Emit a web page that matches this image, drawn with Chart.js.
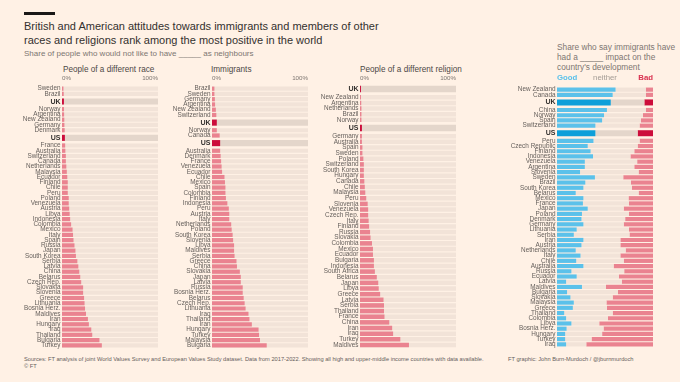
<!DOCTYPE html>
<html lang="en">
<head>
<meta charset="UTF-8">
<title>Attitudes towards immigrants and other races and religions</title>
<script src="https://cdn.jsdelivr.net/npm/chart.js"></script>
<style>
  html, body { margin: 0; padding: 0; }
  body {
    width: 680px; height: 382px; position: relative; overflow: hidden;
    background: #fff1e5; color: #33302e;
    font-family: "Liberation Sans", Arial, sans-serif;
  }
  .abs { position: absolute; white-space: nowrap; }
  .rule { left: 24px; top: 12px; width: 31px; height: 3px; background: #1a1817; }
  .title { left: 24px; top: 19px; font-size: 11px; line-height: 14px; }
  .sub { left: 24px; top: 49px; font-size: 8px; line-height: 10px; color: #7d7671; }
  .ptitle { top: 65px; font-size: 8.2px; line-height: 10px; color: #4d4845; }
  .impact { left: 557px; top: 42px; font-size: 8.3px; line-height: 10px; color: #7d7671; }
  .foot { left: 24px; top: 356px; font-size: 5.7px; line-height: 7px; color: #66605c; }
  .credit { left: 508px; top: 356px; font-size: 5.7px; line-height: 7px; color: #66605c; }
  canvas { position: absolute; top: 72px; }
</style>
</head>
<body>
<div class="abs rule"></div>
<div class="abs title">British and American attitudes towards immigrants and members of other<br>races and religions rank among the most positive in the world</div>
<div class="abs sub">Share of people who would not like to have _____ as neighbours</div>

<div class="abs ptitle" style="left:63px">People of a different race</div>
<div class="abs ptitle" style="left:211px">Immigrants</div>
<div class="abs ptitle" style="left:360px">People of a different religion</div>
<div class="abs impact">Share who say immigrants have<br>had a _____ impact on the<br>country's development</div>

<canvas id="race" width="142" height="281" style="left:18px"></canvas>
<canvas id="imm" width="140" height="281" style="left:170px"></canvas>
<canvas id="religion" width="140" height="281" style="left:318px"></canvas>
<canvas id="impact" width="146" height="280" style="left:509px"></canvas>

<div class="abs foot">Sources: FT analysis of joint World Values Survey and European Values Study dataset. Data from 2017-2022. Showing all high and upper-middle income countries with data available.<br>© FT</div>
<div class="abs credit">FT graphic: John Burn-Murdoch / @jburnmurdoch</div>

<script>
// ---- data ----
const highlighted = ['UK', 'US'];
const pctTicks = [0, 100];
const impactTicks = [0, 50, 100];
const impactTickLabels = ['Good', 'neither', 'Bad'];

const raceCountries = ['Sweden', 'Brazil', 'UK', 'Norway', 'Argentina', 'New Zealand', 'Germany', 'Denmark', 'US', 'France',
  'Australia', 'Switzerland', 'Canada', 'Netherlands', 'Malaysia', 'Ecuador', 'Finland', 'Chile', 'Peru', 'Poland',
  'Venezuela', 'Austria', 'Libya', 'Indonesia', 'Colombia', 'Mexico', 'Italy', 'Spain', 'Russia', 'Japan',
  'South Korea', 'Serbia', 'Latvia', 'China', 'Belarus', 'Czech Rep.', 'Slovakia', 'Slovenia', 'Greece', 'Lithuania',
  'Bosnia Herz.', 'Maldives', 'Iran', 'Hungary', 'Iraq', 'Thailand', 'Bulgaria', 'Turkey'];
const raceValues = [1.5, 1.8, 2, 2.1, 2.2, 2.4, 2.5, 2.8, 3, 3.3,
  3.5, 4, 4, 4.5, 5, 5.5, 6, 6, 6, 7,
  7, 7.5, 8, 8.5, 9.5, 11, 11.5, 12, 13, 14,
  14.5, 16, 17, 18, 19, 20, 22, 22, 23, 23.5,
  24, 25, 27, 28, 30.5, 31.5, 39, 41.5];

const immCountries = ['Brazil', 'Sweden', 'Germany', 'Argentina', 'New Zealand', 'Switzerland', 'UK', 'Norway', 'Canada', 'US',
  'Australia', 'Denmark', 'France', 'Venezuela', 'Ecuador', 'Chile', 'Mexico', 'Spain', 'Colombia', 'Finland',
  'Indonesia', 'Peru', 'Austria', 'Italy', 'Netherlands', 'Poland', 'South Korea', 'Slovenia', 'Libya', 'Maldives',
  'Serbia', 'Greece', 'China', 'Slovakia', 'Japan', 'Latvia', 'Russia', 'Bosnia Herz.', 'Belarus', 'Czech Rep.',
  'Lithuania', 'Iraq', 'Thailand', 'Iran', 'Hungary', 'Turkey', 'Malaysia', 'Bulgaria'];
const immValues = [2.5, 2.5, 3, 3.2, 4, 4.5, 5, 5, 8, 8.5,
  8.5, 9, 9.5, 10, 10.5, 13, 13.5, 14, 14, 14.5,
  16, 17.5, 18, 18, 20, 20.5, 21.5, 22, 23, 23,
  23.5, 25.5, 26, 29, 30, 30, 32, 32, 33, 34,
  35, 38, 39, 41.5, 48.5, 49, 50, 57];

const religionCountries = ['UK', 'New Zealand', 'Argentina', 'Netherlands', 'Brazil', 'Norway', 'US', 'Germany', 'Australia', 'Spain',
  'Sweden', 'Poland', 'Switzerland', 'South Korea', 'Hungary', 'Canada', 'Chile', 'Malaysia', 'Peru', 'Slovenia',
  'Venezuela', 'Czech Rep.', 'Italy', 'Finland', 'Russia', 'Slovakia', 'Colombia', 'Mexico', 'Ecuador', 'Bulgaria',
  'Indonesia', 'South Africa', 'Belarus', 'Japan', 'Libya', 'Greece', 'Latvia', 'Serbia', 'Thailand', 'France',
  'China', 'Iran', 'Iraq', 'Turkey', 'Maldives'];
const religionValues = [1, 1, 1.3, 1.5, 1.5, 1.5, 2, 2, 2, 2.5,
  2.5, 3.5, 4, 4, 4, 4.5, 5, 5.5, 6.5, 8,
  8.5, 8.5, 9, 9.5, 10.5, 11, 12.5, 13.5, 13.5, 14.5,
  14.5, 15.5, 17.5, 19, 19.5, 21, 24.5, 25, 25, 25.5,
  30.5, 33.5, 34.5, 42, 51];

const impactCountries = ['New Zealand', 'Canada', 'UK', 'China', 'Norway', 'Spain', 'Switzerland', 'US', 'Peru', 'Czech Republic',
  'Finland', 'Indonesia', 'Venezuela', 'Argentina', 'Slovenia', 'Sweden', 'Brazil', 'South Korea', 'Belarus', 'Mexico',
  'France', 'Japan', 'Poland', 'Denmark', 'Germany', 'Lithuania', 'Serbia', 'Iran', 'Austria', 'Netherlands',
  'Italy', 'Chile', 'Australia', 'Russia', 'Ecuador', 'Latvia', 'Maldives', 'Bulgaria', 'Slovakia', 'Malaysia',
  'Greece', 'Thailand', 'Colombia', 'Libya', 'Bosnia Herz.', 'Hungary', 'Turkey', 'Iraq'];
const impactGood = [61, 58, 56, 52, 49, 47, 40, 40, 38, 32,
  35, 37.5, 29, 29, 24, 39.5, 29.5, 27.5, 19.5, 27.5,
  27, 32, 26, 25.5, 27.5, 20.5, 17.5, 27.5, 25.5, 19.5,
  24.5, 20, 27.5, 15, 20.5, 9.5, 26, 10.5, 14, 17.5,
  16.5, 7.5, 9.5, 15, 10, 8.5, 8.5, 9.5];
const impactBad = [7.5, 7.5, 9, 7.5, 10.5, 12.5, 14, 16, 14, 16,
  19.5, 23.5, 16.5, 19.5, 15, 31, 23, 22, 15, 25.5,
  25, 30.5, 25, 29, 30.5, 25, 24.5, 34, 34, 28.5,
  34, 30.5, 41, 30, 35.5, 32.5, 49, 36.5, 42, 48.5,
  48, 42, 47, 56, 51.5, 53, 64, 69.5];

// ---- styling ----
const COL = {
  bar: '#ea8390', barHi: '#cc0d3b',
  track: '#f2e3d8', trackHi: '#e4d6cb',
  good: '#5bc1ea', goodHi: '#0e9fd9',
  label: '#66605c', labelHi: '#33302e', axis: '#7d7671'
};
Chart.defaults.font.family = '"Liberation Sans", Arial, sans-serif';

const isHi = c => highlighted.includes(c);

// rank positions, with a little breathing room around the UK and US rows
function rowPositions(countries) {
  const gap = 0.45;
  let offset = 0;
  return countries.map((c, i) => {
    if (isHi(c) && i > 0) offset += gap;
    const p = i + offset;
    if (isHi(c)) offset += gap;
    return p;
  });
}

function yScale(countries, pos, labelWidth) {
  return {
    type: 'linear',
    reverse: true,
    min: pos[0] - 0.55,
    max: pos[pos.length - 1] + 0.55,
    afterBuildTicks: s => { s.ticks = pos.map(v => ({ value: v })); },
    afterFit: s => { s.width = labelWidth; s.paddingTop = 0; s.paddingBottom = 0; },
    grid: { display: false, drawTicks: false },
    border: { display: false },
    ticks: {
      autoSkip: false,
      padding: 1.5,
      callback: (v, i) => countries[i],
      color: ctx => isHi(countries[ctx.index]) ? COL.labelHi : COL.label,
      font: ctx => isHi(countries[ctx.index]) ? { size: 7, weight: 'bold' } : { size: 6.4 }
    }
  };
}

function xScale(ticks, labels, height, extra) {
  return Object.assign({
    type: 'linear',
    position: 'top',
    min: 0,
    max: 100,
    afterBuildTicks: s => { s.ticks = ticks.map(v => ({ value: v })); },
    afterFit: s => { s.height = height; s.paddingLeft = 0; s.paddingRight = 0; },
    grid: { display: false, drawTicks: false },
    border: { display: false },
    ticks: {
      align: 'inner',
      padding: 1,
      maxRotation: 0,
      autoSkip: false,
      color: COL.axis,
      font: { size: 6.2 },
      callback: (v, i) => labels[i]
    }
  }, extra || {});
}

const baseOptions = {
  indexAxis: 'y',
  responsive: false,
  animation: false,
  events: [],
  layout: { padding: { right: 2, bottom: 2 } },
  datasets: { bar: { grouped: false, categoryPercentage: 1 } },
  plugins: { legend: { display: false }, tooltip: { enabled: false } }
};

function barPanel(id, countries, values, labelWidth) {
  const pos = rowPositions(countries);
  const main = [], hi = [], track = [], trackHi = [];
  countries.forEach((c, i) => {
    (isHi(c) ? hi : main).push({ x: values[i], y: pos[i] });
    (isHi(c) ? trackHi : track).push({ x: 100, y: pos[i] });
  });
  new Chart(document.getElementById(id), {
    type: 'bar',
    data: {
      datasets: [
        { data: main, backgroundColor: COL.bar, barPercentage: 0.8 },
        { data: hi, backgroundColor: COL.barHi, barPercentage: 1.15 },
        { data: track, backgroundColor: COL.track, barPercentage: 0.8 },
        { data: trackHi, backgroundColor: COL.trackHi, barPercentage: 1.15 }
      ]
    },
    options: Object.assign({}, baseOptions, {
      scales: {
        x: xScale(pctTicks, pctTicks.map(v => v + '%'), 11),
        y: yScale(countries, pos, labelWidth)
      }
    })
  });
}

barPanel('race', raceCountries, raceValues, 44);
barPanel('imm', immCountries, immValues, 42);
barPanel('religion', religionCountries, religionValues, 42);

// stacked good / neither / bad panel
(function () {
  const pos = rowPositions(impactCountries);
  const sets = { good: [], neither: [], bad: [], goodHi: [], neitherHi: [], badHi: [] };
  impactCountries.forEach((c, i) => {
    const sfx = isHi(c) ? 'Hi' : '';
    sets['good' + sfx].push({ x: impactGood[i], y: pos[i] });
    sets['neither' + sfx].push({ x: 100 - impactGood[i] - impactBad[i], y: pos[i] });
    sets['bad' + sfx].push({ x: impactBad[i], y: pos[i] });
  });
  const tickColors = [COL.good, '#a39b94', '#d9304f'];
  new Chart(document.getElementById('impact'), {
    type: 'bar',
    data: {
      datasets: [
        { data: sets.good, stack: 'm', backgroundColor: COL.good, barPercentage: 0.8 },
        { data: sets.neither, stack: 'm', backgroundColor: COL.track, barPercentage: 0.8 },
        { data: sets.bad, stack: 'm', backgroundColor: COL.bar, barPercentage: 0.8 },
        { data: sets.goodHi, stack: 'h', backgroundColor: COL.goodHi, barPercentage: 1.15 },
        { data: sets.neitherHi, stack: 'h', backgroundColor: COL.trackHi, barPercentage: 1.15 },
        { data: sets.badHi, stack: 'h', backgroundColor: COL.barHi, barPercentage: 1.15 }
      ]
    },
    options: Object.assign({}, baseOptions, {
      scales: {
        x: xScale(impactTicks, impactTickLabels, 12, { stacked: true }),
        y: Object.assign(yScale(impactCountries, pos, 48), { stacked: true })
      }
    })
  });
  const c = Chart.getChart('impact');
  c.options.scales.x.ticks.color = ctx => tickColors[ctx.index];
  c.options.scales.x.ticks.font = ctx => ({ size: 7.8, weight: ctx.index === 1 ? 'normal' : 'bold' });
  c.update();
})();
</script>
</body>
</html>
